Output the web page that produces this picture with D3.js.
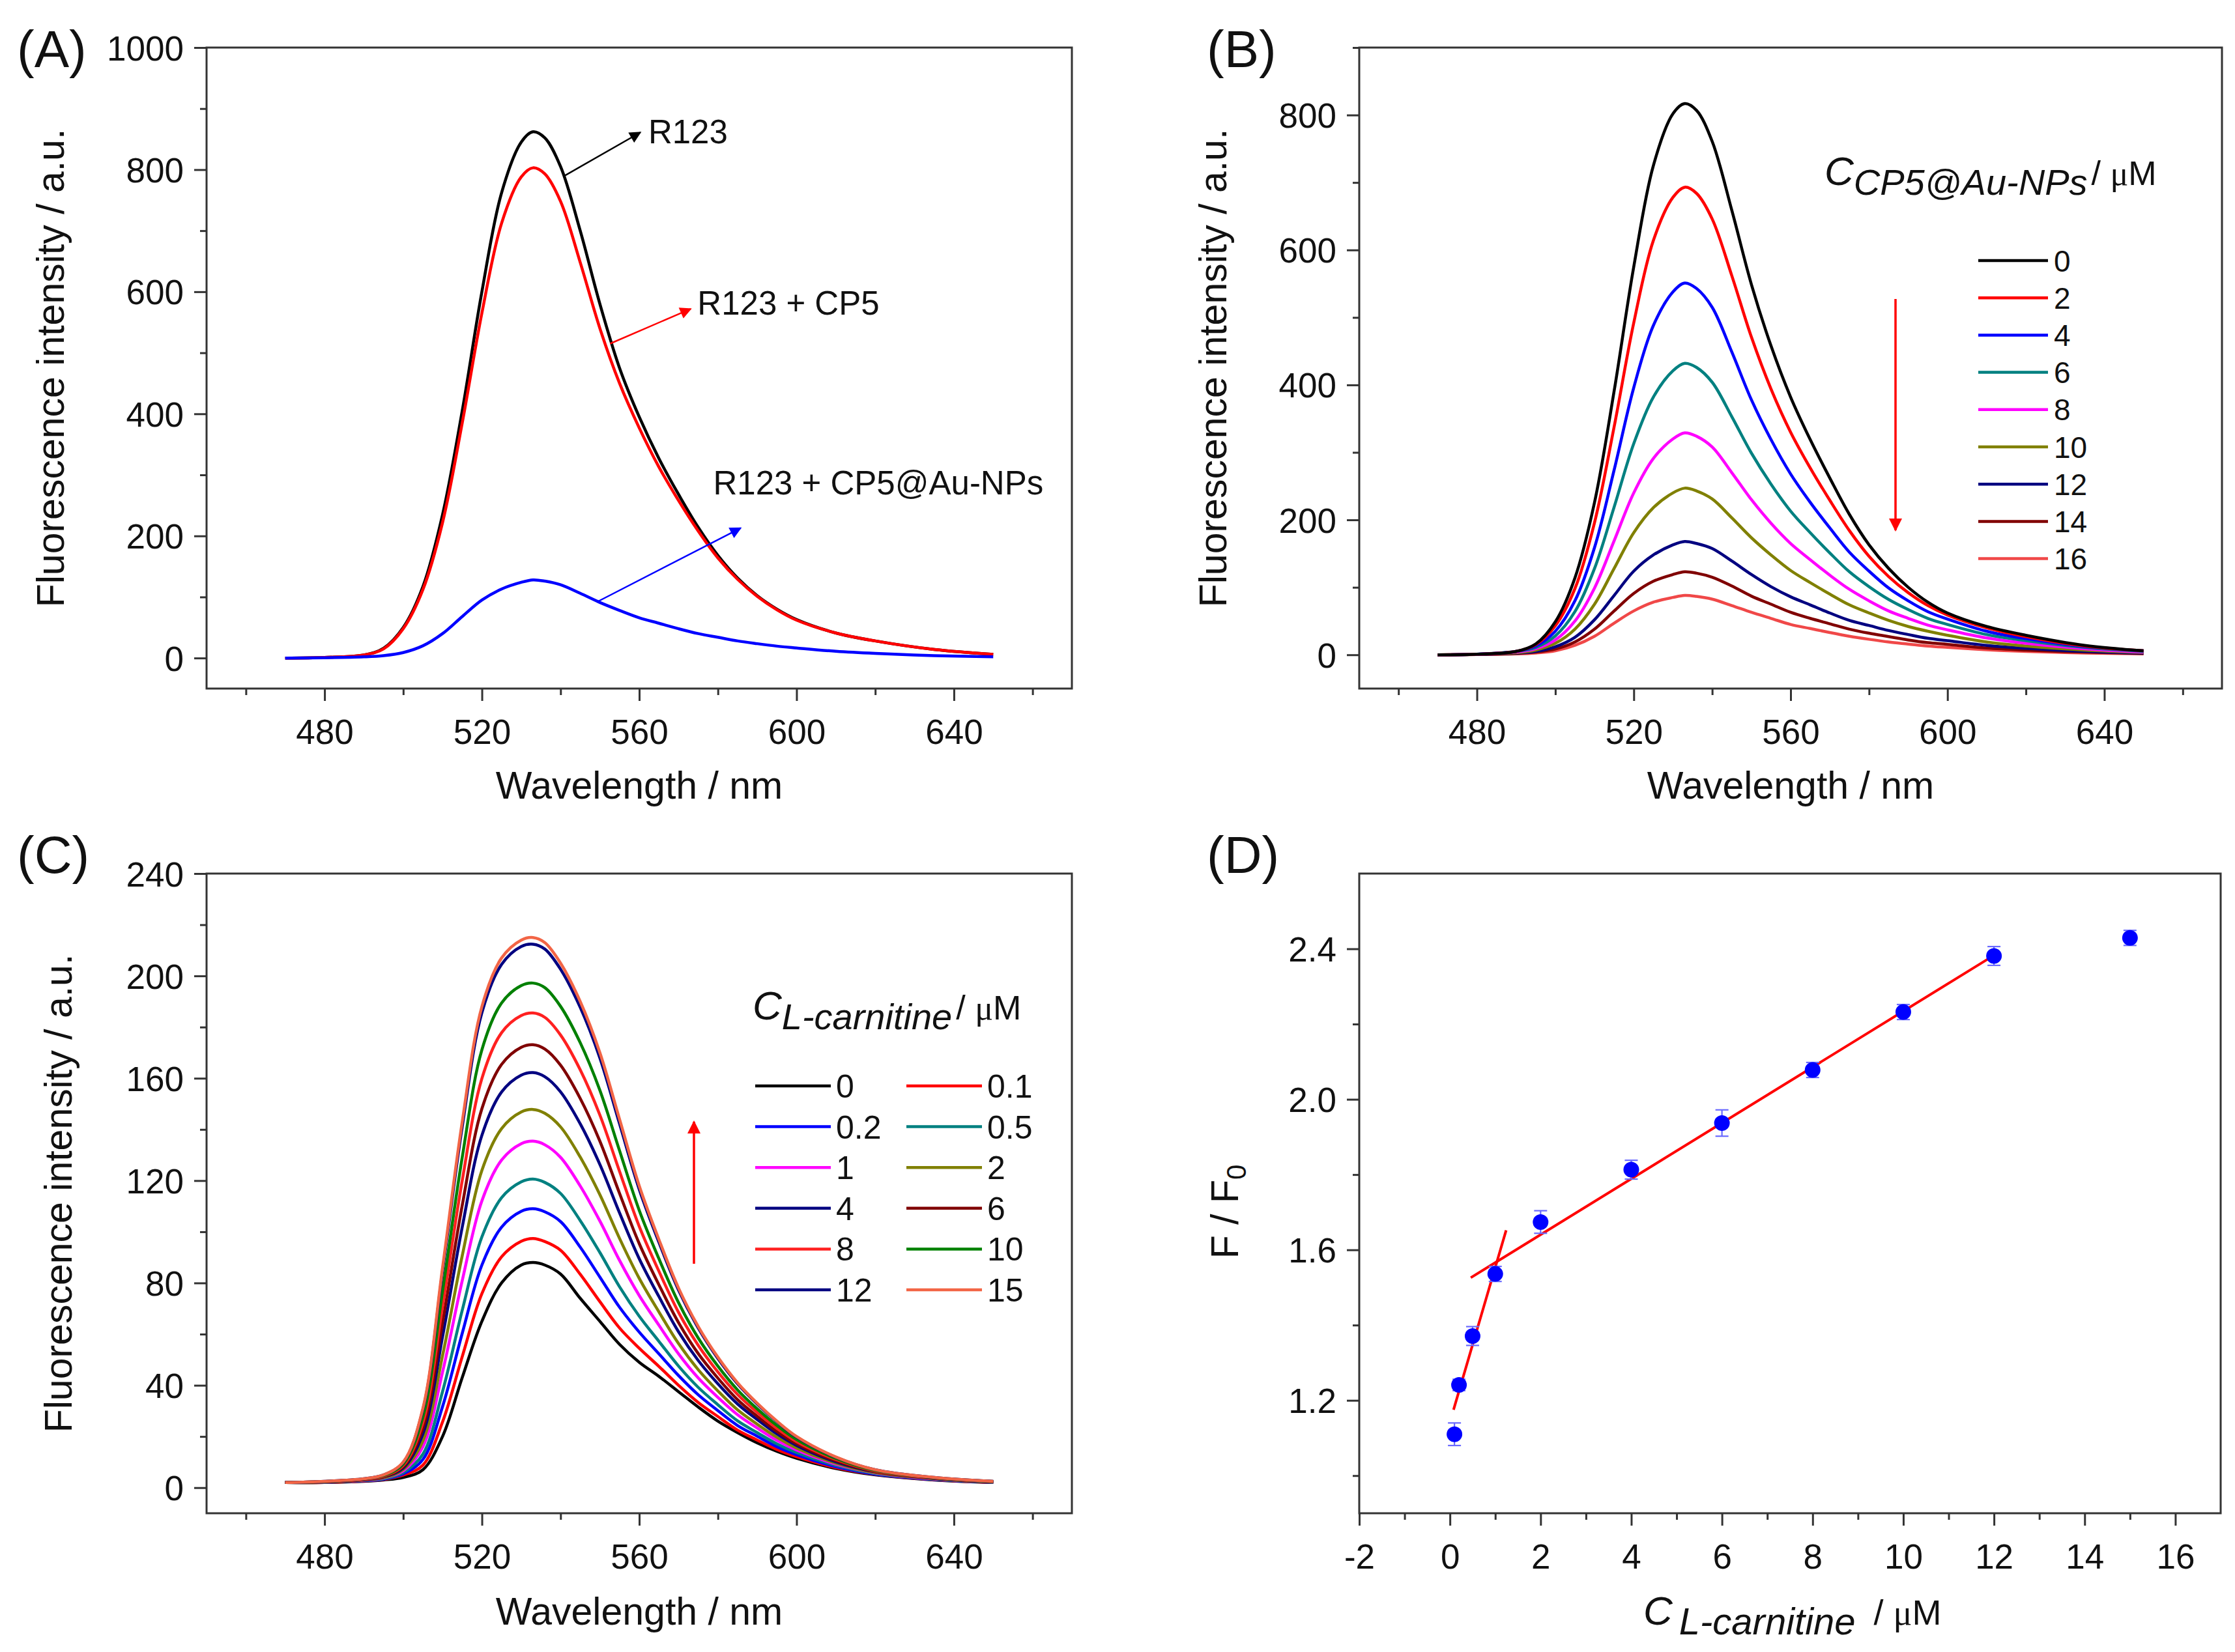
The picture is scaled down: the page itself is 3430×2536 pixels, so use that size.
<!DOCTYPE html>
<html>
<head>
<meta charset="utf-8">
<script src="https://cdnjs.cloudflare.com/ajax/libs/d3/7.8.5/d3.min.js"></script>
<style>
  body { margin: 0; background: #fff; }
  svg { display: block; font-family: "Liberation Sans", Arial, sans-serif; }
</style>
</head>
<body>
<div id="chart"></div>
<script>
// ---------------------------------------------------------------
// data
// ---------------------------------------------------------------
var wavelengths = [470, 480, 490, 495, 500, 505, 510, 515, 520, 525, 530, 533, 536, 540, 545, 550, 555, 560, 565, 570, 575, 580, 585, 590, 595, 600, 610, 620, 635, 650];

// (A)
var aR123     = [0, 1, 5, 16, 50, 117, 235, 405, 600, 762, 845, 862, 852, 805, 700, 580, 475, 395, 327, 268, 214, 168, 131, 102, 80, 63, 41, 28, 14, 6];
var aR123CP5  = [0, 1, 5, 15, 48, 112, 222, 385, 565, 712, 788, 803, 793, 748, 648, 540, 450, 377, 313, 258, 208, 164, 129, 101, 79, 62, 41, 28, 14, 6];
var aR123AuNP = [0, 0.5, 2, 4, 9, 20, 40, 68, 95, 113, 124, 128, 126, 120, 106, 91, 78, 66, 57, 48, 40, 34, 28, 23.5, 19.5, 16.5, 11, 7.5, 4, 2];

// (B)  C(CP5@Au-NPs) / uM
var bConc = ["0", "2", "4", "6", "8", "10", "12", "14", "16"];
var bColors = ["#000000", "#ff0000", "#0000ff", "#008080", "#ff00ff", "#808000", "#000080", "#800000", "#f04848"];
var bSpectra = [
  [0, 1, 5, 16, 49, 114, 226, 391, 575, 725, 802, 817, 807, 761, 659, 549, 458, 382, 319, 262, 208, 163, 128, 100, 78, 62, 42, 29, 14, 6],
  [0, 1, 5, 15, 43, 98, 196, 338, 492, 614, 678, 693, 684, 646, 562, 471, 394, 330, 277, 229, 184, 146, 116, 92, 73, 59, 40, 27, 13, 6],
  [0, 1, 5, 13, 35, 80, 159, 274, 396, 488, 538, 551, 543, 515, 449, 378, 319, 268, 226, 188, 152, 124, 99, 80, 64, 53, 35, 24, 12, 6],
  [0, 1, 5, 11, 28, 64, 128, 219, 313, 382, 421, 432, 426, 404, 353, 299, 253, 213, 181, 151, 123, 101, 82, 67, 54, 45, 30, 21, 11, 5],
  [0, 1, 4, 9, 22, 50, 99, 169, 240, 291, 320, 329, 324, 308, 270, 230, 195, 165, 141, 118, 97, 80, 65, 54, 44, 37, 25, 17, 9, 4],
  [0, 1, 3, 7, 17, 38, 75, 128, 181, 218, 240, 247, 243, 231, 203, 173.5, 148, 125, 107, 90, 74, 62, 51, 42, 35, 29, 19, 13, 7, 3.5],
  [0, 0.6, 2.5, 5, 12, 26, 52, 88, 124, 148, 163, 168, 165, 157.5, 139, 119, 101, 86, 74, 62, 51, 43.5, 36, 30, 24.5, 21, 14, 9.5, 5, 2.5],
  [0, 0.5, 2, 4, 8.5, 19, 38, 65, 91, 109, 119, 123, 121, 115, 102, 87, 75, 63, 54, 46, 38, 32, 27, 22, 18, 15.5, 10, 7, 4, 2],
  [0, 0.4, 1.4, 2.7, 6, 14, 27.5, 47, 65, 78, 85, 88, 86.6, 82.5, 73, 63, 54, 45, 39, 33, 27.5, 23, 19, 16, 13, 11, 7.5, 5, 2.7, 1.4]
];

// (C)  C(L-carnitine) / uM
var cConc = ["0", "0.1", "0.2", "0.5", "1", "2", "4", "6", "8", "10", "12", "15"];
var cColors = ["#000000", "#ff0000", "#0000ff", "#008080", "#ff00ff", "#808000", "#000080", "#800000", "#ff2020", "#008000", "#000080", "#f26546"];
var cSpectra = [
  [2, 2, 2.5, 3, 4, 7, 20, 43, 65, 80, 87, 88, 87, 83.5, 74, 65, 56, 49, 43.5, 37.5, 31.5, 26, 21.5, 17.5, 14.2, 11.5, 7.5, 5, 3, 2],
  [2, 2, 2.6, 3.2, 4.9, 8.8, 25.7, 51.2, 75.8, 90.2, 96.3, 97.4, 96.2, 92.8, 83.4, 72.7, 62.4, 54.5, 47.4, 40, 33.3, 27.8, 22.5, 18.6, 14.9, 12.1, 7.8, 5.2, 3.1, 2],
  [2, 2.1, 2.7, 3.3, 5.4, 11, 31.7, 60.3, 87, 101.8, 108, 109, 107.8, 104, 94, 82.3, 70.5, 60.8, 52.3, 43.8, 36.3, 30.1, 24.3, 20.1, 16, 12.9, 8.2, 5.3, 3.2, 2.1],
  [2, 2.1, 2.8, 3.5, 5.9, 13.1, 37.6, 69.3, 98, 113.3, 119.5, 120.6, 119.3, 115, 104.4, 91.9, 78.5, 67, 57.2, 47.5, 39.2, 32.4, 26.1, 21.5, 17.1, 13.7, 8.7, 5.5, 3.3, 2.1],
  [2, 2.2, 2.9, 3.8, 6.6, 16, 45.2, 80.9, 112.1, 128, 134.4, 135.4, 134, 129.1, 117.9, 104.2, 88.8, 75.1, 63.5, 52.3, 42.9, 35.3, 28.5, 23.3, 18.5, 14.7, 9.2, 5.8, 3.4, 2.2],
  [2, 2.2, 3, 3.9, 7.1, 18.3, 51.6, 90.6, 124, 140.3, 146.8, 147.8, 146.3, 141, 129.2, 114.5, 97.4, 81.8, 68.7, 56.3, 46.1, 37.8, 30.4, 24.8, 19.7, 15.5, 9.6, 5.9, 3.5, 2.2],
  [2, 2.3, 3.1, 4.2, 7.7, 21, 59, 101.8, 137.7, 154.6, 161.2, 162.2, 160.6, 154.7, 142.2, 126.3, 107.4, 89.5, 74.7, 60.9, 49.7, 40.6, 32.7, 26.6, 21, 16.5, 10.1, 6.2, 3.6, 2.3],
  [2, 2.3, 3.2, 4.3, 8.2, 23.1, 64.6, 110.3, 148.1, 165.4, 172.1, 173.1, 171.4, 165.1, 152.1, 135.4, 115, 95.4, 79.3, 64.5, 52.4, 42.8, 34.4, 27.9, 22, 17.2, 10.5, 6.3, 3.7, 2.3],
  [2, 2.4, 3.3, 4.5, 8.7, 25.4, 70.9, 120, 159.9, 177.8, 184.5, 185.5, 183.8, 176.9, 163.3, 145.6, 123.6, 102.1, 84.6, 68.5, 55.6, 45.2, 36.4, 29.4, 23.2, 18, 11, 6.5, 3.8, 2.4],
  [2, 2.4, 3.4, 4.7, 9.2, 27.6, 76.9, 129.1, 171.1, 189.4, 196.2, 197.2, 195.4, 188.1, 173.9, 155.3, 131.7, 108.4, 89.5, 72.3, 58.5, 47.5, 38.2, 30.8, 24.3, 18.8, 11.4, 6.7, 3.9, 2.4],
  [2, 2.5, 3.5, 5, 9.9, 30.5, 84.7, 141, 185.6, 204.5, 211.5, 212.4, 210.5, 202.6, 187.7, 167.9, 142.2, 116.6, 95.9, 77.2, 62.4, 50.5, 40.6, 32.7, 25.8, 19.8, 11.9, 7, 4, 2.5],
  [2, 2.5, 3.5, 5, 10, 31, 86, 143, 188, 207, 214, 215, 213, 205, 190, 170, 144, 118, 97, 78, 63, 51, 41, 33, 26, 20, 12, 7, 4, 2.5]
];

// (D)  F/F0 vs C(L-carnitine)
var dConc  = [0.1, 0.2, 0.5, 1, 2, 4, 6, 8, 10, 12, 15];
var dRatio = [1.110, 1.241, 1.371, 1.536, 1.674, 1.813, 1.937, 2.078, 2.232, 2.381, 2.429];
var dError = [0.030, 0.015, 0.025, 0.020, 0.030, 0.025, 0.035, 0.020, 0.020, 0.025, 0.020];
var fitLow  = [[0.08, 1.175], [1.24, 1.652]];
var fitHigh = [[0.46, 1.526], [11.95, 2.379]];

// tick values
var waveMajor = [480, 520, 560, 600, 640];
var waveMinor = [460, 500, 540, 580, 620, 660];
var aYMajor = [0, 200, 400, 600, 800, 1000], aYMinor = [100, 300, 500, 700, 900];
var bYMajor = [0, 200, 400, 600, 800], bYMinor = [100, 300, 500, 700, 900];
var cYMajor = [0, 40, 80, 120, 160, 200, 240], cYMinor = [20, 60, 100, 140, 180, 220];
var dXMajor = [-2, 0, 2, 4, 6, 8, 10, 12, 14, 16], dXMinor = [-1, 1, 3, 5, 7, 9, 11, 13, 15];
var dYMajor = [1.2, 1.6, 2.0, 2.4], dYMinor = [1.0, 1.4, 1.8, 2.2];

// ---------------------------------------------------------------
var W = 3430, H = 2536;
var svg = d3.select("#chart").append("svg").attr("width", W).attr("height", H);

var defs = svg.append("defs");
function arrowMarker(id, color, len, wid) {
  defs.append("marker")
    .attr("id", id).attr("markerUnits", "userSpaceOnUse")
    .attr("viewBox", "0 0 10 10").attr("refX", 9).attr("refY", 5)
    .attr("markerWidth", len).attr("markerHeight", wid)
    .attr("orient", "auto")
    .append("path").attr("d", "M0,0 L10,5 L0,10 z").attr("fill", color);
}
arrowMarker("arBlack", "#000", 26, 18);
arrowMarker("arRed", "#ff0000", 26, 18);
arrowMarker("arBlue", "#0000ff", 26, 18);
arrowMarker("arRedBig", "#ff0000", 28, 20);

var AXIS = "#333";
var TICKFONT = 53, TITLEFONT = 59;

function drawAxes(g, x, y, box, o) {
  // minor ticks
  g.append("g").attr("transform", "translate(0," + box.bottom + ")")
    .call(d3.axisBottom(x).tickValues(o.xMinor).tickSize(10).tickFormat(""));
  g.append("g").attr("transform", "translate(" + box.left + ",0)")
    .call(d3.axisLeft(y).tickValues(o.yMinor).tickSize(10).tickFormat(""));
  // major ticks
  g.append("g").attr("class", "xmaj").attr("transform", "translate(0," + box.bottom + ")")
    .call(d3.axisBottom(x).tickValues(o.xMajor).tickSize(19).tickPadding(16).tickFormat(o.xFormat));
  g.append("g").attr("class", "ymaj").attr("transform", "translate(" + box.left + ",0)")
    .call(d3.axisLeft(y).tickValues(o.yMajor).tickSize(19).tickPadding(16).tickFormat(o.yFormat));
  g.selectAll(".domain").remove();
  g.selectAll(".tick line").attr("stroke", AXIS).attr("stroke-width", 3);
  g.selectAll(".tick text").attr("fill", "#111").attr("font-size", TICKFONT)
    .attr("font-family", "Liberation Sans, Arial, sans-serif");
  g.selectAll(".xmaj .tick text").attr("dy", "0.95em");
  g.selectAll(".ymaj .tick text").attr("dy", "0.36em");
  // frame
  g.append("rect").attr("x", box.left).attr("y", box.top)
    .attr("width", box.right - box.left).attr("height", box.bottom - box.top)
    .attr("fill", "none").attr("stroke", AXIS).attr("stroke-width", 3);
}

function panelLabel(txt, x, y) {
  svg.append("text").attr("x", x).attr("y", y).attr("font-size", 80).attr("fill", "#111").text(txt);
}

function yTitle(txt, x, cy) {
  svg.append("text").attr("transform", "translate(" + x + "," + cy + ") rotate(-90)")
    .attr("text-anchor", "middle").attr("font-size", TITLEFONT).attr("fill", "#111").text(txt);
}
function xTitle(txt, cx, y) {
  svg.append("text").attr("x", cx).attr("y", y)
    .attr("text-anchor", "middle").attr("font-size", TITLEFONT).attr("fill", "#111").text(txt);
}

var line = function (x, y) {
  return d3.line().x(function (d) { return x(d[0]); }).y(function (d) { return y(d[1]); })
    .curve(d3.curveCatmullRom.alpha(0.5));
};
function pairs(vals) { return wavelengths.map(function (w, i) { return [w, vals[i]]; }); }

function spectraPanel(box, yDomain, yMajor, yMinor, series) {
  var g = svg.append("g");
  var x = d3.scaleLinear().domain([450, 670]).range([box.left, box.right]);
  var y = d3.scaleLinear().domain(yDomain).range([box.bottom, box.top]);
  drawAxes(g, x, y, box, {
    xMinor: waveMinor, xMajor: waveMajor, yMinor: yMinor, yMajor: yMajor,
    xFormat: d3.format("d"), yFormat: d3.format("d")
  });
  var gen = line(x, y);
  series.forEach(function (s) {
    g.append("path").attr("d", gen(pairs(s.values)))
      .attr("fill", "none").attr("stroke", s.color).attr("stroke-width", 4.5)
      .attr("stroke-linejoin", "round");
  });
  return { g: g, x: x, y: y };
}

// big italic C + italic subscript + "/ μM"
function concTitle(x, y, sub, bigSize, subSize, gapSub, gapUnit) {
  var t = svg.append("text").attr("x", x).attr("y", y).attr("fill", "#111");
  t.append("tspan").attr("font-style", "italic").attr("font-size", bigSize).text("C");
  t.append("tspan").attr("font-style", "italic").attr("font-size", subSize)
    .attr("dy", 15).attr("dx", gapSub).text(sub);
  t.append("tspan").attr("font-size", subSize - 4).attr("dy", -15).attr("dx", gapUnit).text("/ ");
  t.append("tspan").attr("font-size", subSize - 4).attr("font-family", "Liberation Serif, serif").text("μ");
  t.append("tspan").attr("font-size", subSize - 4).text("M");
}

// ---------------------------------------------------------------
// (A)
// ---------------------------------------------------------------
var boxA = { left: 317, right: 1645, top: 73, bottom: 1057 };
var pA = spectraPanel(boxA, [-50, 1000], aYMajor, aYMinor, [
  { values: aR123, color: "#000000" },
  { values: aR123CP5, color: "#ff0000" },
  { values: aR123AuNP, color: "#0000ff" }
]);
panelLabel("(A)", 26, 103);
yTitle("Fluorescence intensity / a.u.", 98, (boxA.top + boxA.bottom) / 2);
xTitle("Wavelength / nm", (boxA.left + boxA.right) / 2, 1226);

var annA = [
  { from: [541, 790], to: [560.3, 861], color: "#000", marker: "arBlack", text: "R123", at: [562.3, 863] },
  { from: [552.6, 515], to: [573.1, 572], color: "#ff0000", marker: "arRed", text: "R123 + CP5", at: [574.8, 582] },
  { from: [549.6, 93], to: [585.8, 213], color: "#0000ff", marker: "arBlue", text: "R123 + CP5@Au-NPs", at: [578.8, 288] }
];
annA.forEach(function (a) {
  pA.g.append("line")
    .attr("x1", pA.x(a.from[0])).attr("y1", pA.y(a.from[1]))
    .attr("x2", pA.x(a.to[0])).attr("y2", pA.y(a.to[1]))
    .attr("stroke", a.color).attr("stroke-width", 2.5).attr("marker-end", "url(#" + a.marker + ")");
  pA.g.append("text").attr("x", pA.x(a.at[0])).attr("y", pA.y(a.at[1]))
    .attr("dy", "0.36em").attr("font-size", 51).attr("fill", "#111").text(a.text);
});

// ---------------------------------------------------------------
// (B)
// ---------------------------------------------------------------
var boxB = { left: 2086, right: 3410, top: 73, bottom: 1057 };
var bSeries = bSpectra.map(function (v, i) { return { values: v, color: bColors[i] }; }).reverse();
spectraPanel(boxB, [-50, 900], bYMajor, bYMinor, bSeries);
panelLabel("(B)", 1852, 103);
yTitle("Fluorescence intensity / a.u.", 1882, (boxB.top + boxB.bottom) / 2);
xTitle("Wavelength / nm", (boxB.left + boxB.right) / 2, 1226);

concTitle(2800, 284, "CP5@Au-NPs", 62, 56, 0, 6);
var legB = svg.append("g");
bConc.forEach(function (c, i) {
  var yy = 400 + i * 57.2;
  legB.append("line").attr("x1", 3036).attr("x2", 3143).attr("y1", yy).attr("y2", yy)
    .attr("stroke", bColors[i]).attr("stroke-width", 4.5);
  legB.append("text").attr("x", 3152).attr("y", yy).attr("dy", "0.36em")
    .attr("font-size", 46).attr("fill", "#111").text(c);
});
svg.append("line").attr("x1", 2909).attr("y1", 459).attr("x2", 2909).attr("y2", 814)
  .attr("stroke", "#ff0000").attr("stroke-width", 3.5).attr("marker-end", "url(#arRedBig)");

// ---------------------------------------------------------------
// (C)
// ---------------------------------------------------------------
var boxC = { left: 317, right: 1645, top: 1341, bottom: 2323 };
var cSeries = cSpectra.map(function (v, i) { return { values: v, color: cColors[i] }; });
spectraPanel(boxC, [-10, 240], cYMajor, cYMinor, cSeries);
panelLabel("(C)", 26, 1340);
yTitle("Fluorescence intensity / a.u.", 110, (boxC.top + boxC.bottom) / 2);
xTitle("Wavelength / nm", (boxC.left + boxC.right) / 2, 2494);

concTitle(1155, 1565, "L-carnitine", 62, 56, 0, 6);
var legC = svg.append("g");
cConc.forEach(function (c, i) {
  var row = Math.floor(i / 2), col = i % 2;
  var yy = 1667 + row * 62.6;
  var x0 = col === 0 ? 1159 : 1391;
  legC.append("line").attr("x1", x0).attr("x2", x0 + 116).attr("y1", yy).attr("y2", yy)
    .attr("stroke", cColors[i]).attr("stroke-width", 4.5);
  legC.append("text").attr("x", x0 + 124).attr("y", yy).attr("dy", "0.36em")
    .attr("font-size", 50).attr("fill", "#111").text(c);
});
svg.append("line").attr("x1", 1065).attr("y1", 1940).attr("x2", 1065).attr("y2", 1722)
  .attr("stroke", "#ff0000").attr("stroke-width", 3.5).attr("marker-end", "url(#arRedBig)");

// ---------------------------------------------------------------
// (D)
// ---------------------------------------------------------------
var boxD = { left: 2086, right: 3408, top: 1341, bottom: 2323 };
var gD = svg.append("g");
var xD = d3.scaleLinear().domain([-2, 17]).range([boxD.left, boxD.right]);
var yD = d3.scaleLinear().domain([0.9, 2.6]).range([boxD.bottom, boxD.top]);
drawAxes(gD, xD, yD, boxD, {
  xMinor: dXMinor, xMajor: dXMajor, yMinor: dYMinor, yMajor: dYMajor,
  xFormat: d3.format("d"), yFormat: d3.format(".1f")
});
gD.selectAll(".xmaj .tick text").text(function (d) { return String(d); });
panelLabel("(D)", 1852, 1340);

// fit lines
[fitLow, fitHigh].forEach(function (f) {
  gD.append("path").attr("d", d3.line().x(function (d) { return xD(d[0]); }).y(function (d) { return yD(d[1]); })(f))
    .attr("fill", "none").attr("stroke", "#ff0000").attr("stroke-width", 4);
});
// error bars
var pts = dConc.map(function (c, i) { return { x: c, y: dRatio[i], e: dError[i] }; });
var eb = gD.append("g").attr("stroke", "#6a6aff").attr("stroke-width", 2.2);
pts.forEach(function (p) {
  var cx = xD(p.x), y1 = yD(p.y - p.e), y2 = yD(p.y + p.e);
  eb.append("line").attr("x1", cx).attr("x2", cx).attr("y1", y1).attr("y2", y2);
  eb.append("line").attr("x1", cx - 10).attr("x2", cx + 10).attr("y1", y1).attr("y2", y1);
  eb.append("line").attr("x1", cx - 10).attr("x2", cx + 10).attr("y1", y2).attr("y2", y2);
});
gD.selectAll("circle.pt").data(pts).enter().append("circle").attr("class", "pt")
  .attr("cx", function (d) { return xD(d.x); }).attr("cy", function (d) { return yD(d.y); })
  .attr("r", 12).attr("fill", "#0000ff");

// D titles
var fTitle = svg.append("text").attr("transform", "translate(1900,1860) rotate(-90)")
  .attr("text-anchor", "middle").attr("font-size", TITLEFONT).attr("fill", "#111");
fTitle.append("tspan").text("F / F");
fTitle.append("tspan").attr("font-size", 42).attr("dy", 12).text("0");

concTitle(2522, 2494, "L-carnitine", 62, 58, 10, 28);
</script>
</body>
</html>
